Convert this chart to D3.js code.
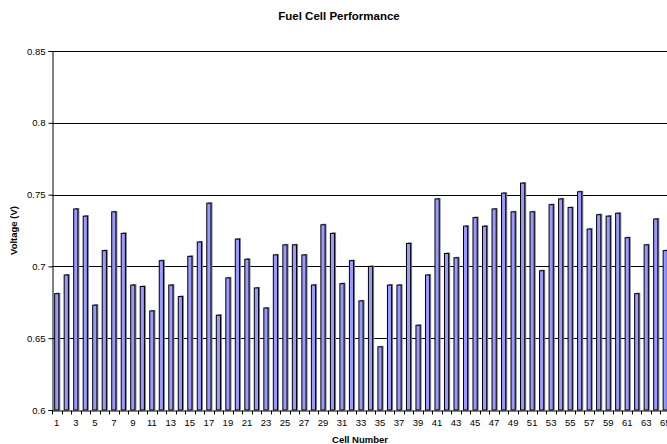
<!DOCTYPE html>
<html>
<head>
<meta charset="utf-8">
<script src="https://cdn.jsdelivr.net/npm/d3@7"></script>
<style>
  body { margin: 0; background: #fff; overflow: hidden; }
  text { font-family: "Liberation Sans", Arial, sans-serif; }
</style>
</head>
<body>
<div id="chart"></div>
<script>
// cell numbers and measured voltages
const cells = d3.range(1, 66);
const voltages = [
  0.681, 0.694, 0.740, 0.735, 0.673, 0.711, 0.738, 0.723, 0.687, 0.686,
  0.669, 0.704, 0.687, 0.679, 0.707, 0.717, 0.744, 0.666, 0.692, 0.719,
  0.705, 0.685, 0.671, 0.708, 0.715, 0.715, 0.708, 0.687, 0.729, 0.723,
  0.688, 0.704, 0.676, 0.700, 0.644, 0.687, 0.687, 0.716, 0.659, 0.694,
  0.747, 0.709, 0.706, 0.728, 0.734, 0.728, 0.740, 0.751, 0.738, 0.758,
  0.738, 0.697, 0.743, 0.747, 0.741, 0.752, 0.726, 0.736, 0.735, 0.737,
  0.720, 0.681, 0.715, 0.733, 0.711
];
const yTicks = [0.6, 0.65, 0.7, 0.75, 0.8, 0.85];
const yTickLabels = ["0.6", "0.65", "0.7", "0.75", "0.8", "0.85"];

const width = 667, height = 444;
const margin = {top: 51, left: 52, bottom: 34};
const plotRight = 670;

const svg = d3.select("#chart").append("svg")
  .attr("width", width)
  .attr("height", height);

const x = d3.scaleBand()
  .domain(cells)
  .range([margin.left, plotRight])
  .padding(0);

const y = d3.scaleLinear()
  .domain([0.6, 0.85])
  .range([height - margin.bottom, margin.top]);

// gridlines
svg.append("g")
  .selectAll("line")
  .data(yTicks.slice(1))
  .enter().append("line")
    .attr("x1", margin.left)
    .attr("x2", plotRight)
    .attr("y1", d => Math.round(y(d)) + 0.5)
    .attr("y2", d => Math.round(y(d)) + 0.5)
    .attr("stroke", "#000")
    .attr("stroke-width", 1);

// bars with shadow
const barW = x.bandwidth() * 0.44;
const bars = svg.append("g");

bars.selectAll("rect.shadow")
  .data(cells)
  .enter().append("rect")
    .attr("class", "shadow")
    .attr("x", (d, i) => x(d) + (x.bandwidth() - barW) / 2 + 1.5)
    .attr("y", (d, i) => y(voltages[i]) - 1)
    .attr("width", barW)
    .attr("height", (d, i) => y(0.6) - y(voltages[i]) + 1)
    .attr("fill", "#808080");

bars.selectAll("rect.bar")
  .data(cells)
  .enter().append("rect")
    .attr("class", "bar")
    .attr("x", (d, i) => x(d) + (x.bandwidth() - barW) / 2)
    .attr("y", (d, i) => y(voltages[i]))
    .attr("width", barW)
    .attr("height", (d, i) => y(0.6) - y(voltages[i]))
    .attr("fill", "#9999FF")
    .attr("stroke", "#000")
    .attr("stroke-width", 1);

// y axis
const yAxis = svg.append("g")
  .attr("transform", "translate(" + (margin.left + 0.5) + ",0)")
  .call(d3.axisLeft(y)
    .tickValues(yTicks)
    .tickSize(4)
    .tickPadding(3)
    .tickFormat((d, i) => yTickLabels[i]));
yAxis.select(".domain").attr("stroke", "#000");
yAxis.selectAll("text").style("font-size", "9.5px").attr("fill", "#000");

// x axis
const xAxis = svg.append("g")
  .attr("transform", "translate(0," + (y(0.6) + 0.5) + ")")
  .call(d3.axisBottom(x)
    .tickSize(0)
    .tickPadding(9)
    .tickFormat(d => d % 2 === 1 ? d : ""));
xAxis.select(".domain").attr("stroke", "#000");
xAxis.selectAll("text").style("font-size", "9.5px").attr("fill", "#000");

// tick marks at category boundaries
xAxis.selectAll("line.bound")
  .data(cells)
  .enter().append("line")
    .attr("class", "bound")
    .attr("x1", d => Math.round(x(d)) + 0.5)
    .attr("x2", d => Math.round(x(d)) + 0.5)
    .attr("y1", 0)
    .attr("y2", 4)
    .attr("stroke", "#000");

// titles
svg.append("text")
  .attr("x", 339)
  .attr("y", 20)
  .attr("text-anchor", "middle")
  .style("font-size", "11.5px")
  .style("font-weight", "bold")
  .text("Fuel Cell Performance");

svg.append("text")
  .attr("x", 360)
  .attr("y", 443)
  .attr("text-anchor", "middle")
  .style("font-size", "9.5px")
  .style("font-weight", "bold")
  .text("Cell Number");

svg.append("text")
  .attr("transform", "translate(17," + ((y(0.6) + y(0.85)) / 2) + ") rotate(-90)")
  .attr("text-anchor", "middle")
  .style("font-size", "9.5px")
  .style("font-weight", "bold")
  .text("Voltage (V)");
</script>
</body>
</html>
